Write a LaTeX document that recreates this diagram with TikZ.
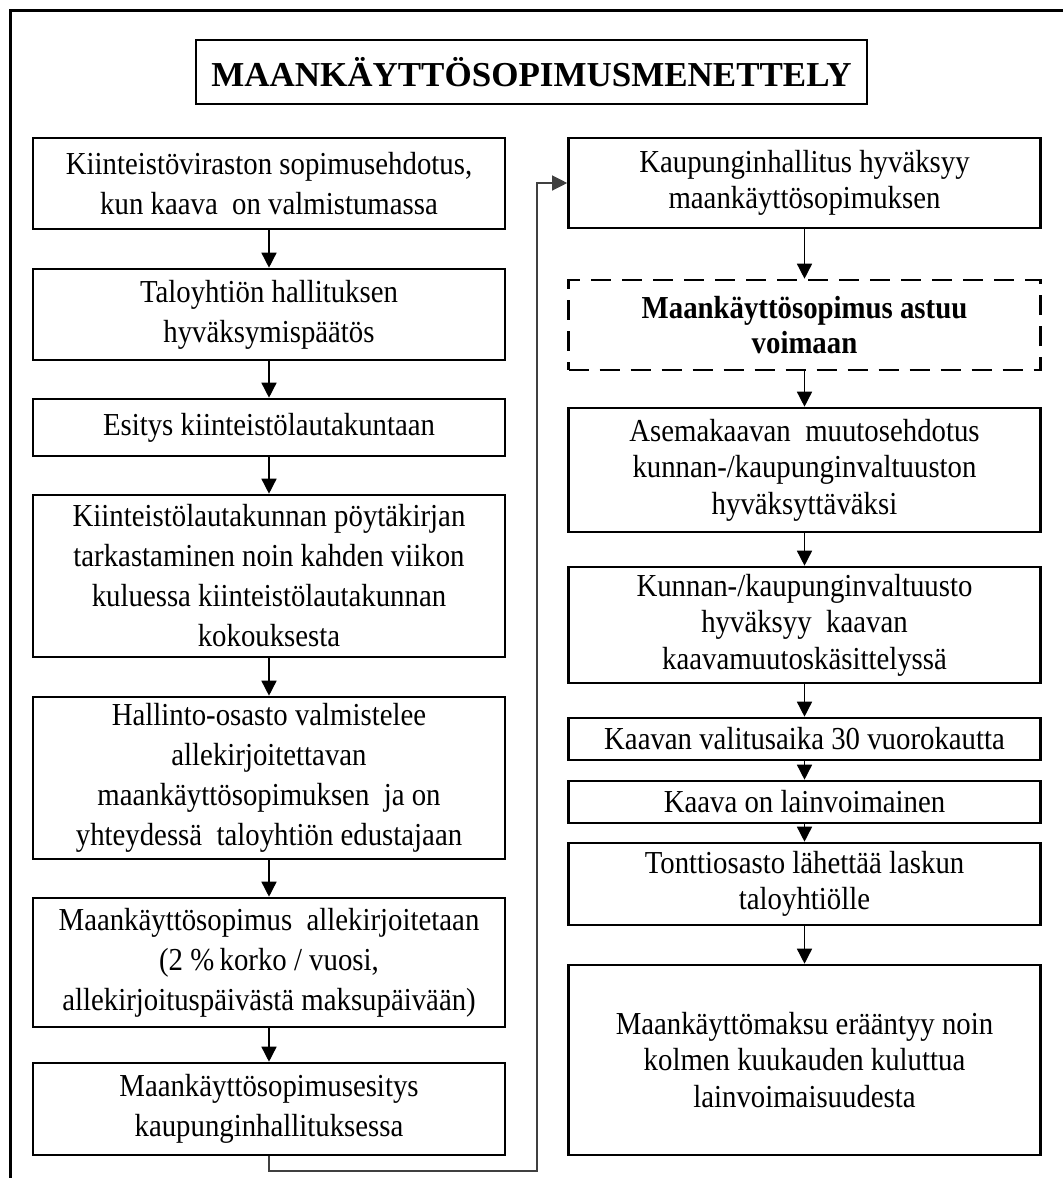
\documentclass[tikz,border=0pt]{standalone}
\usepackage{fontspec}
\setmainfont{Liberation Serif}
\newfontfamily\boxfont[FakeStretch=0.9]{Liberation Serif}
\usetikzlibrary{arrows.meta}
\begin{document}
\begin{tikzpicture}[x=1pt,y=-1pt]
\tikzset{
  stepbox/.style={draw, line width=2.6pt, minimum width=472pt, align=center,
    inner sep=0pt, font=\boxfont\fontsize{32}{40}\selectfont},
  tightbox/.style={stepbox, font=\boxfont\fontsize{32}{36.5}\selectfont},
  dashbox/.style={stepbox, dash pattern=on 20pt off 11pt,
    font=\boxfont\fontsize{32}{35}\selectfont\bfseries},
  titlebox/.style={draw, line width=2.6pt, minimum width=671pt, minimum height=64pt,
    inner sep=0pt, font=\fontsize{35}{40}\selectfont\bfseries},
  flow/.style={-{Triangle[length=15pt,width=15pt]}, line width=1.5pt},
  link/.style={-{Triangle[length=15pt,width=15pt]}, line width=1.2pt, draw=black!75}
}
\useasboundingbox (0,0) rectangle (1063,1178);
% outer frame (left and top edges)
\draw[line width=3pt] (10,1178) -- (10,10) -- (1063,10);

% title
\node[titlebox] (title) at (531.5,72) {MAANKÄYTTÖSOPIMUSMENETTELY};

% left column
\node[stepbox, minimum height=91pt]  (L1) at (269,183.5) {Kiinteistöviraston sopimusehdotus,\\kun kaava\ \ on valmistumassa};
\node[stepbox, minimum height=91pt]  (L2) at (269,314.5) {Taloyhtiön hallituksen\\hyväksymispäätös};
\node[stepbox, minimum height=57pt]  (L3) at (269,427.5) {Esitys kiinteistölautakuntaan};
\node[stepbox, minimum height=162pt] (L4) at (269,576) {Kiinteistölautakunnan pöytäkirjan\\tarkastaminen noin kahden viikon\\kuluessa kiinteistölautakunnan\\kokouksesta};
\node[stepbox, minimum height=162pt] (L5) at (269,778) {Hallinto-osasto valmistelee\\allekirjoitettavan\\maankäyttösopimuksen\ \ ja on\\yhteydessä\ \ taloyhtiön edustajaan};
\node[stepbox, minimum height=129pt] (L6) at (269,962.5) {Maankäyttösopimus\ \ allekirjoitetaan\\(2 \%\,korko / vuosi,\\allekirjoituspäivästä maksupäivään)};
\node[stepbox, minimum height=92pt]  (L7) at (269,1109) {Maankäyttösopimusesitys\\kaupunginhallituksessa};

% right column
\node[tightbox, minimum height=90pt]  (R1) at (804.5,183) {Kaupunginhallitus hyväksyy\\maankäyttösopimuksen};
\node[dashbox, minimum height=90pt]   (R2) at (804.5,325) {Maankäyttösopimus astuu\\voimaan};
\node[tightbox, minimum height=124pt] (R3) at (804.5,470) {Asemakaavan\ \ muutosehdotus\\kunnan-/kaupunginvaltuuston\\hyväksyttäväksi};
\node[tightbox, minimum height=116pt] (R4) at (804.5,625) {Kunnan-/kaupunginvaltuusto\\hyväksyy\ \ kaavan\\kaavamuutoskäsittelyssä};
\node[tightbox, minimum height=42pt]  (R5) at (804.5,739) {Kaavan valitusaika 30 vuorokautta};
\node[tightbox, minimum height=42pt]  (R6) at (804.5,802) {Kaava on lainvoimainen};
\node[tightbox, minimum height=82pt]  (R7) at (804.5,884) {Tonttiosasto lähettää laskun\\taloyhtiölle};
\node[tightbox, minimum height=190pt] (R8) at (804.5,1060) {Maankäyttömaksu erääntyy noin\\kolmen kuukauden kuluttua\\lainvoimaisuudesta};

% connectors
\draw[flow] (L1) -- (L2);
\draw[flow] (L2) -- (L3);
\draw[flow] (L3) -- (L4);
\draw[flow] (L4) -- (L5);
\draw[flow] (L5) -- (L6);
\draw[flow] (L6) -- (L7);
\coordinate (turn) at (537,1171);
\draw[link] (L7.south) |- (turn) |- (R1.west);
\draw[flow] (R1) -- (R2);
\draw[flow] (R2) -- (R3);
\draw[flow] (R3) -- (R4);
\draw[flow] (R4) -- (R5);
\draw[flow] (R5) -- (R6);
\draw[flow] (R6) -- (R7);
\draw[flow] (R7) -- (R8);
\end{tikzpicture}
\end{document}
